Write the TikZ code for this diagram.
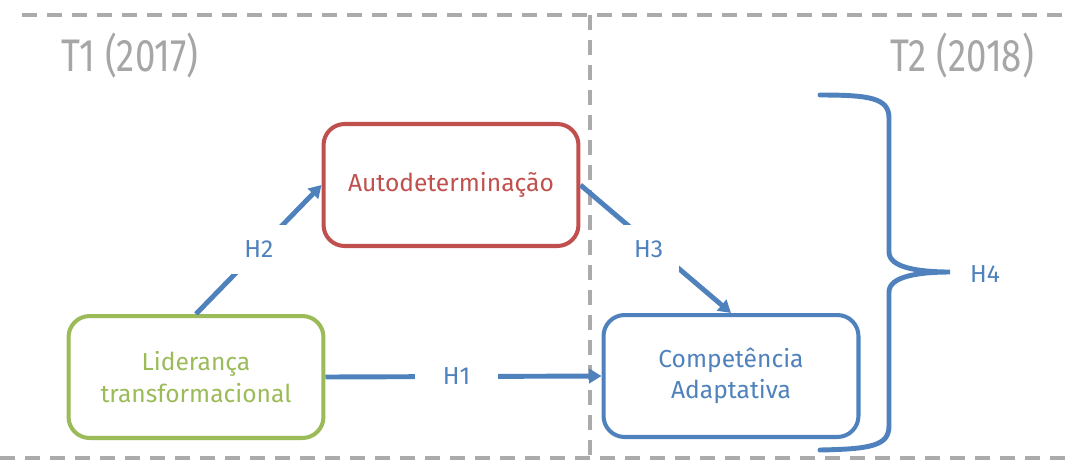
\documentclass[tikz,border=0pt]{standalone}
\usepackage{fontspec}
\setmainfont{Fira Sans}
\newfontfamily\tempofont[FakeStretch=0.8]{Fira Sans}
\usetikzlibrary{arrows.meta, positioning}

\definecolor{verdeLid}{HTML}{9BBB59}
\definecolor{vermAuto}{HTML}{C0504D}
\definecolor{azulComp}{HTML}{4F81BD}
\definecolor{cinzaT}{HTML}{A6A6A6}
\definecolor{cinzaCorte}{HTML}{ABABAB}

\begin{document}
\begin{tikzpicture}[
      >={Triangle[width=8pt,length=7pt]},
      x=0.02cm, y=-0.02cm,
      caixa/.style={draw, line width=2.3pt, rounded corners=12pt,
        minimum width=5.1cm, minimum height=2.44cm, align=center,
        font=\fontsize{14}{18}\selectfont},
      seta/.style={->, line width=2.8pt, azulComp},
      rot/.style={fill=white, text=azulComp, inner sep=9pt,
        font=\fontsize{14}{18}\selectfont},
      tempo/.style={text=cinzaT, font=\tempofont\fontsize{26}{30}\selectfont},
      corte/.style={cinzaCorte, line width=2.2pt, dash pattern=on 0.3cm off 0.2cm},
      chave/.style={azulComp, line width=2.8pt, line cap=round}
    ]
    \useasboundingbox (0,0) rectangle (1066,461);

    % Linhas de corte
    \draw[corte] (22,15) -- (1066,15);
    \draw[corte] (0,458) -- (1066,458);
    \draw[corte] (590,15) -- (590,461);

    % Tempos
    \node[tempo] (t1) at (130,56) {T1 (2017)};
    \node[tempo] (t2) at (962,56) {T2 (2018)};

    % Variaveis
    \node[caixa, vermAuto] (auto) at (451,185) {Autodeterminação};
    \node[caixa, verdeLid] (lid) at (196,377) {Liderança\\transformacional};
    \node[caixa, azulComp] (comp) at (731,376) {Competência\\Adaptativa};

    % Hipoteses
    \draw[seta] (lid.north) -- (auto.west) node[rot, midway] {H2};
    \draw[seta] (auto.east) -- (comp.north) node[rot, midway, xshift=-4pt] {H3};
    \draw[seta] (lid.east) -- (comp.west) node[rot, midway, inner xsep=16pt, xshift=-4pt] {H1};

    % Chave H4
    \node[text=azulComp, font=\fontsize{14}{18}\selectfont] (h4) at (985,274) {H4};
    \draw[chave] (820,95) .. controls (870,95) and (889,98) .. (889,118)
      -- (889,252) .. controls (889,268) and (920,272) .. (950,272)
      .. controls (920,272) and (889,276) .. (889,292)
      -- (889,426) .. controls (889,446) and (870,449) .. (820,450);
  \end{tikzpicture}
\end{document}
